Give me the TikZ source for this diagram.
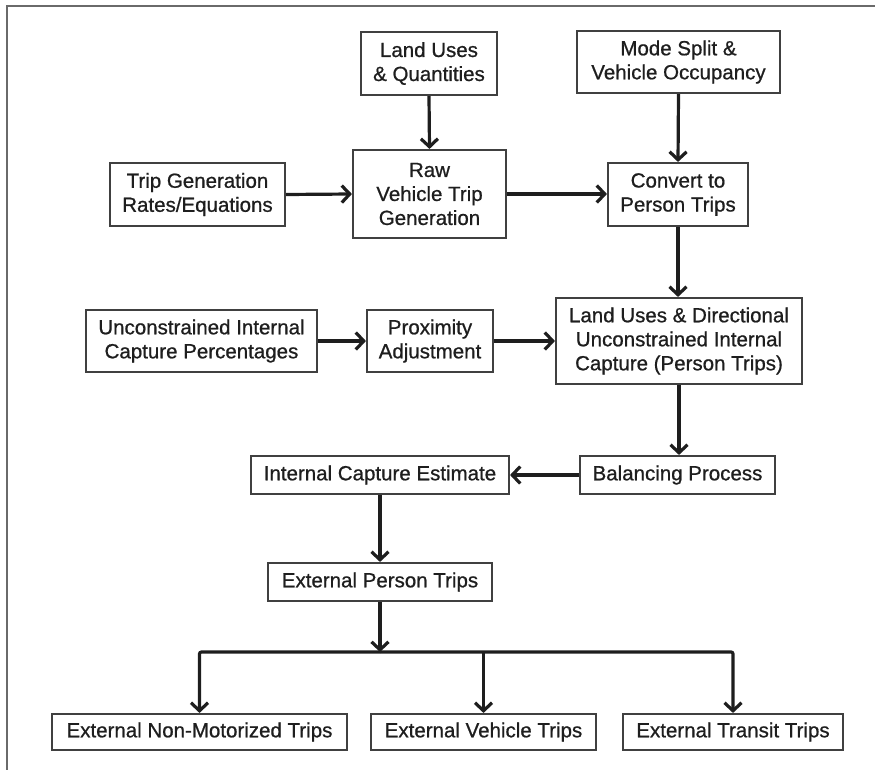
\documentclass[tikz,border=0pt]{standalone}
\usepackage{fontspec}
\setmainfont{Liberation Sans}
\newfontfamily\boxfont{Liberation Sans}[FakeBold=0.8,AutoFakeBold=0.8]
\usetikzlibrary{arrows.meta}
\definecolor{boxline}{HTML}{404040}
\definecolor{arrline}{HTML}{1E1E1E}
\definecolor{framec}{HTML}{6A6A6A}
\definecolor{txt}{HTML}{1E1E1E}
\tikzset{
  box/.style={draw=boxline, line width=2.1pt, inner sep=0pt, align=center, text=txt,
    font=\boxfont\bfseries\fontsize{20.5}{24}\selectfont},
  arr/.style={draw=arrline, line width=3.2pt, -{Straight Barb[length=8pt,width=17pt]}},
}
\begin{document}
\begin{tikzpicture}[x=1pt,y=-1pt]
\useasboundingbox (0,0) rectangle (875,770);
\draw[framec, line width=2.2pt] (7,770) -- (7,6) -- (875,6);

\node[box, minimum width=136pt, minimum height=63pt] (lq) at (429,63.5) {Land Uses\\\& Quantities};
\node[box, minimum width=203pt, minimum height=62pt] (ms) at (678.5,62) {Mode Split \&\\Vehicle Occupancy};
\node[box, minimum width=175pt, minimum height=63pt] (tg) at (197.5,194.5) {Trip Generation\\Rates/Equations};
\node[box, minimum width=153pt, minimum height=88pt] (raw) at (429.5,194) {Raw\\Vehicle Trip\\Generation};
\node[box, minimum width=140pt, minimum height=63pt] (conv) at (678,194.5) {Convert to\\Person Trips};
\node[box, minimum width=231pt, minimum height=62pt] (uic) at (201.5,341) {Unconstrained Internal\\Capture Percentages};
\node[box, minimum width=126pt, minimum height=62pt] (prox) at (430,341) {Proximity\\Adjustment};
\node[box, minimum width=246pt, minimum height=86pt] (lud) at (679,341) {Land Uses \& Directional\\Unconstrained Internal\\Capture (Person Trips)};
\node[box, minimum width=258pt, minimum height=38pt] (ice) at (380,475) {Internal Capture Estimate};
\node[box, minimum width=195pt, minimum height=38pt] (bal) at (677.5,475) {Balancing Process};
\node[box, minimum width=224pt, minimum height=38pt] (ept) at (380,582) {External Person Trips};
\node[box, minimum width=295pt, minimum height=36pt] (nm) at (199.5,732) {External Non-Motorized Trips};
\node[box, minimum width=225pt, minimum height=36pt] (ev) at (483.5,732) {External Vehicle Trips};
\node[box, minimum width=220pt, minimum height=36pt] (tt) at (733,732) {External Transit Trips};

\coordinate (j) at (380,652);

\draw[arr] (lq.south) -- (raw.north);
\draw[arr] (tg.east) -- (raw.west);
\draw[arr] (raw.east) -- (raw.east -| conv.west);
\draw[arr] (ms.south) -- (conv.north);
\draw[arr] (conv.south) -- (conv.south |- lud.north);
\draw[arr] (uic.east) -- (prox.west);
\draw[arr] (prox.east) -- (lud.west);
\draw[arr] (lud.south) -- (lud.south |- bal.north);
\draw[arr] (bal.west) -- (ice.east);
\draw[arr] (ice.south) -- (ept.north);
\draw[arr] (ept.south) -- (j);
\draw[arr, rounded corners=2pt] (j) -| (nm.north);
\draw[arr, rounded corners=2pt] (j) -| (tt.north);
\draw[arr] (j -| ev.north) -- (ev.north);
\end{tikzpicture}
\end{document}
